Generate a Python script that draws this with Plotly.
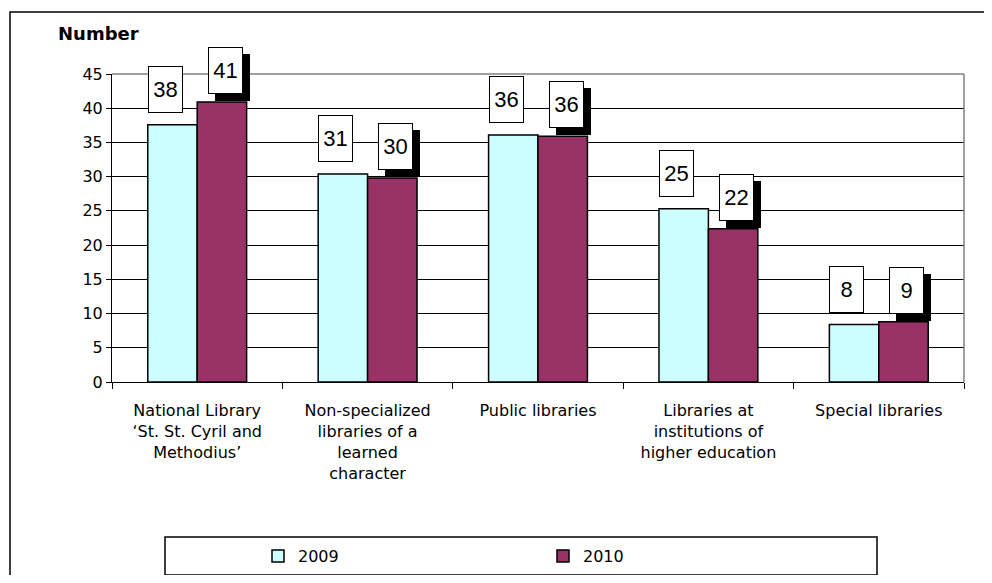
"""Libraries by type, 2009 vs 2010 - grouped bar chart."""

import plotly.graph_objects as go

CATEGORIES = [
    "National Library<br>‘St. St. Cyril and<br>Methodius’",
    "Non-specialized<br>libraries of a<br>learned<br>character",
    "Public libraries",
    "Libraries at<br>institutions of<br>higher education",
    "Special libraries",
]
VALUES_2009 = [37.6, 30.4, 36.1, 25.3, 8.4]
VALUES_2010 = [40.9, 29.8, 35.9, 22.4, 8.8]
LABELS_2009 = ["38", "31", "36", "25", "8"]
LABELS_2010 = ["41", "30", "36", "22", "9"]
Y_TICKS = [0, 5, 10, 15, 20, 25, 30, 35, 40, 45]

FONT = "DejaVu Sans, sans-serif"
LABEL_FONT = "Liberation Sans, Arial, sans-serif"

# the page puts the figure 8px in from the top-left corner
OFF = 8
W, H = 976, 567
X0, X1, Y0, Y1 = 112, 964, 74, 382  # plot area in screen pixels
L, R, T, B = X0 - OFF, OFF + W - X1, Y0 - OFF, OFF + H - Y1


def px_x(x):
    return (x - X0) / (X1 - X0)


def px_y(y):
    return (Y1 - y) / (Y1 - Y0)


fig = go.Figure()
fig.add_trace(go.Bar(name="2009", x=CATEGORIES, y=VALUES_2009,
                     marker=dict(color="#CCFFFF", line=dict(color="#000000", width=1.5))))
fig.add_trace(go.Bar(name="2010", x=CATEGORIES, y=VALUES_2010,
                     marker=dict(color="#993366", line=dict(color="#000000", width=1.5))))

box = dict(xref="x", yref="y", showarrow=False, yanchor="bottom", width=31, height=43, borderpad=1,
           bordercolor="#000000", borderwidth=1, font=dict(family=LABEL_FONT, size=22, color="black"))
annotations = []
for cat, val, lab in zip(CATEGORIES, VALUES_2009, LABELS_2009):
    annotations.append(dict(box, x=cat, y=val, text=lab, xshift=-32, yshift=12, bgcolor="white"))
for cat, val, lab in zip(CATEGORIES, VALUES_2010, LABELS_2010):
    # black drop shadow first, then the white box
    annotations.append(dict(box, x=cat, y=val, text=" ", xshift=35, yshift=1, bgcolor="black"))
    annotations.append(dict(box, x=cat, y=val, text=lab, xshift=28, yshift=8, bgcolor="white"))
annotations.append(dict(x=px_x(56), y=px_y(34), xref="paper", yref="paper", text="<b>Number</b>",
                        showarrow=False, xanchor="left", yanchor="middle",
                        font=dict(family=FONT, size=18, color="black")))

shapes = [
    # outer chart border (runs off the right and bottom of the picture)
    dict(type="rect", xref="paper", yref="paper", x0=px_x(10), x1=px_x(1010), y0=px_y(620), y1=px_y(12),
         line=dict(color="#000000", width=1.5), layer="below"),
    # plot area top and right edges
    dict(type="line", xref="paper", yref="paper", x0=0, x1=1, y0=1, y1=1, line=dict(color="#808080", width=1.5)),
    dict(type="line", xref="paper", yref="paper", x0=1, x1=1, y0=0, y1=1, line=dict(color="#808080", width=1.5)),
    # legend box
    dict(type="rect", xref="paper", yref="paper", x0=px_x(165), x1=px_x(877), y0=px_y(575), y1=px_y(537),
         line=dict(color="#000000", width=1.5)),
]

fig.update_layout(
    width=W, height=H,
    margin=dict(l=L, r=R, t=T, b=B, autoexpand=False),
    paper_bgcolor="white", plot_bgcolor="white",
    font=dict(family=FONT, size=16, color="black"),
    barmode="group", bargap=0.42, bargroupgap=0,
    showlegend=True,
    legend=dict(orientation="h", x=px_x(258), y=px_y(556), xanchor="left", yanchor="middle",
                entrywidth=240, font=dict(family=FONT, size=16), bgcolor="rgba(0,0,0,0)"),
    annotations=annotations, shapes=shapes,
)
fig.update_xaxes(type="category", showline=True, linecolor="black", linewidth=1,
                 ticks="outside", tickson="boundaries", ticklen=6, tickcolor="black",
                 tickfont=dict(family=FONT, size=16, color="black"), ticklabelstandoff=14,
                 showgrid=False)
fig.update_yaxes(range=[0, 45], tickvals=Y_TICKS, showline=True, linecolor="black", linewidth=1,
                 ticks="outside", ticklen=5, tickcolor="black", showgrid=True, gridcolor="black",
                 gridwidth=1, zeroline=False, tickfont=dict(family=FONT, size=16, color="black"))

fig.write_html("out.html")
